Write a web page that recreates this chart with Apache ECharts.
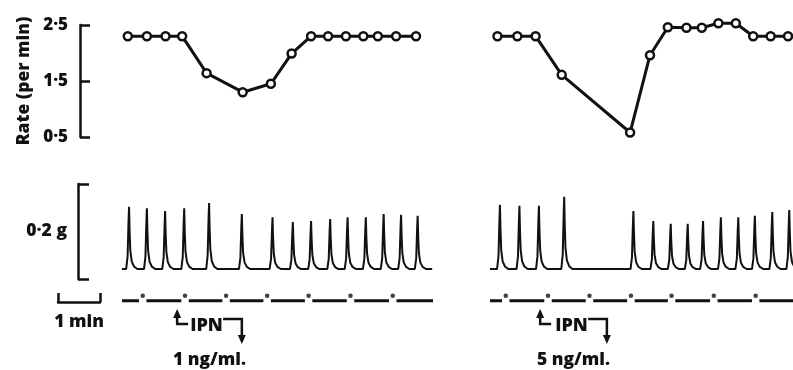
<!DOCTYPE html>
<html>
<head>
<meta charset="utf-8">
<script src="https://cdn.jsdelivr.net/npm/echarts@6/dist/echarts.min.js"></script>
<style>
  html, body { margin: 0; background: #fff; }
  #chart { width: 793px; height: 370px; }
</style>
</head>
<body>
<div id="chart"></div>
<script>
// rate (per min), time in min from start of each record
var rateTimeL = [0.14, 0.60, 1.05, 1.45, 2.04, 2.91, 3.59, 4.09, 4.56, 4.97, 5.40, 5.82, 6.17, 6.61, 7.09]
var rateL = [2.3, 2.3, 2.3, 2.3, 1.64, 1.3, 1.45, 1.99, 2.3, 2.3, 2.3, 2.3, 2.3, 2.3, 2.3]
var rateTimeR = [0.18, 0.66, 1.10, 1.73, 3.38, 3.86, 4.29, 4.74, 5.11, 5.51, 5.93, 6.35, 6.77, 7.19]
var rateR = [2.3, 2.3, 2.3, 1.61, 0.58, 1.96, 2.46, 2.45, 2.45, 2.53, 2.53, 2.3, 2.3, 2.3]

// contractions: peak time (min) and amplitude (g)
var beatTimeL = [0.17, 0.60, 1.04, 1.50, 2.10, 2.89, 3.63, 4.12, 4.56, 5.02, 5.44, 5.88, 6.31, 6.73, 7.13]
var beatAmpL = [0.131, 0.128, 0.122, 0.128, 0.139, 0.116, 0.109, 0.099, 0.101, 0.105, 0.109, 0.109, 0.116, 0.114, 0.112]
var beatTimeR = [0.24, 0.71, 1.18, 1.79, 3.46, 3.94, 4.36, 4.77, 5.14, 5.57, 5.99, 6.39, 6.81, 7.22]
var beatAmpR = [0.135, 0.133, 0.133, 0.152, 0.122, 0.101, 0.095, 0.095, 0.101, 0.109, 0.109, 0.112, 0.120, 0.124]
var restTension = 0.021

// 1 min time marks
var minuteMarksL = [0.5, 1.52, 2.51, 3.5, 4.5, 5.51, 6.53]
var minuteMarksR = [0.38, 1.4, 2.4, 3.4, 4.38, 5.4, 6.41]

// IPN in / out (min)
var ipnL = [1.33, 2.89]
var ipnR = [1.21, 2.82]
var doseL = '1 ng/ml.'
var doseR = '5 ng/ml.'

var endL = 7.5
var endR = 7.31

var ink = '#111'
var font = 'Open Sans'

// shape of one twitch: [time offset (min), fraction of amplitude]
var twitch = [[-0.07, 0], [-0.035, 0.2], [-0.013, 0.75], [0, 1], [0.013, 0.62], [0.03, 0.3], [0.065, 0.12], [0.12, 0.04], [0.2, 0]]

function zip (a, b) {
  return a.map(function (v, i) { return [v, b[i]] })
}

function buildTrace (times, amps, end) {
  var pts = [[0, restTension]]
  times.forEach(function (t, i) {
    twitch.forEach(function (p) {
      pts.push([t + p[0], restTension + amps[i] * p[1]])
    })
  })
  pts.push([end, restTension])
  return pts
}

var markY = -0.046
var dotY = -0.035
function buildMarker (marks, end) {
  var pts = [[0, markY]]
  marks.forEach(function (m) {
    pts.push([m - 0.09, markY], [m, '-'], [m + 0.09, markY])
  })
  pts.push([end, markY])
  return pts
}

var lineSeries = function (x, y, data, extra) {
  return Object.assign({
    type: 'line',
    xAxisIndex: x,
    yAxisIndex: y,
    data: data,
    showSymbol: false,
    symbol: 'none',
    animation: false,
    silent: true,
    lineStyle: { color: ink, width: 2 }
  }, extra || {})
}

var rateSeries = function (x, data) {
  return {
    type: 'line',
    xAxisIndex: x,
    yAxisIndex: x,
    data: data,
    clip: false,
    animation: false,
    silent: true,
    symbol: 'circle',
    symbolSize: 8,
    z: 5,
    lineStyle: { color: ink, width: 3 },
    itemStyle: { color: '#fff', borderColor: ink, borderWidth: 2.5 }
  }
}

var hiddenX = function (g, max) {
  return { type: 'value', gridIndex: g, min: 0, max: max, show: false }
}

var txt = function (size) {
  return { color: ink, fontFamily: font, fontWeight: 800, fontSize: size }
}

var myChart = echarts.init(document.getElementById('chart'))
var option = {
  backgroundColor: '#fff',
  grid: [
    { left: 122, top: 25, width: 311, height: 112 },
    { left: 122, top: 184, width: 311, height: 95 },
    { left: 490, top: 25, width: 303, height: 112 },
    { left: 490, top: 184, width: 303, height: 95 },
    { left: 58, top: 285, width: 42, height: 17 }
  ],
  xAxis: [
    hiddenX(0, endL),
    hiddenX(1, endL),
    hiddenX(2, endR),
    hiddenX(3, endR),
    {
      type: 'value', gridIndex: 4, min: 0, max: 1, interval: 1,
      axisLine: { onZero: false, lineStyle: { color: ink, width: 2.5 } },
      axisTick: { inside: true, length: 9, lineStyle: { color: ink, width: 2.5 } },
      axisLabel: { show: false },
      splitLine: { show: false },
      name: '1 min',
      nameLocation: 'middle',
      nameGap: 11,
      nameTextStyle: txt(17.5)
    }
  ],
  yAxis: [
    {
      type: 'value', gridIndex: 0, min: 0.5, max: 2.5, interval: 1, offset: 42,
      axisLine: { show: true, onZero: false, lineStyle: { color: ink, width: 2.5 } },
      axisTick: { show: true, inside: true, length: 10, lineStyle: { color: ink, width: 2.5 } },
      axisLabel: Object.assign(txt(17), {
        margin: 12,
        formatter: function (v) { return v.toFixed(1).replace('.', '·') }
      }),
      splitLine: { show: false },
      name: 'Rate (per min)',
      nameLocation: 'middle',
      nameRotate: 90,
      nameGap: 47,
      nameTextStyle: txt(17.5)
    },
    {
      type: 'value', gridIndex: 1, min: 0, max: 0.2, interval: 0.2, offset: 44,
      axisLine: { show: true, onZero: false, lineStyle: { color: ink, width: 2.5 } },
      axisTick: { show: true, inside: true, length: 11, lineStyle: { color: ink, width: 2.5 } },
      axisLabel: { show: false },
      splitLine: { show: false },
      name: '0·2 g',
      nameLocation: 'middle',
      nameRotate: 0,
      nameGap: 11,
      nameTextStyle: txt(17.5)
    },
    { type: 'value', gridIndex: 2, min: 0.5, max: 2.5, show: false },
    { type: 'value', gridIndex: 3, min: 0, max: 0.2, show: false },
    { type: 'value', gridIndex: 4, min: 0, max: 1, show: false }
  ],
  series: [
    rateSeries(0, zip(rateTimeL, rateL)),
    rateSeries(2, zip(rateTimeR, rateR)),
    lineSeries(1, 1, buildTrace(beatTimeL, beatAmpL, endL - 0.02)),
    lineSeries(3, 3, buildTrace(beatTimeR, beatAmpR, endR + 0.2)),
    lineSeries(1, 1, buildMarker(minuteMarksL, endL), { clip: false, lineStyle: { color: ink, width: 3 } }),
    lineSeries(3, 3, buildMarker(minuteMarksR, endR), { clip: false, lineStyle: { color: ink, width: 3 } }),
    {
      type: 'scatter', xAxisIndex: 1, yAxisIndex: 1, clip: false, animation: false, silent: true,
      symbolSize: 4.5, itemStyle: { color: ink },
      data: minuteMarksL.map(function (m) { return [m, dotY] })
    },
    {
      type: 'scatter', xAxisIndex: 3, yAxisIndex: 3, clip: false, animation: false, silent: true,
      symbolSize: 4.5, itemStyle: { color: ink },
      data: minuteMarksR.map(function (m) { return [m, dotY] })
    }
  ]
}
myChart.setOption(option, true)

// IPN arrows and dose labels, placed from the drug times
function ipnGraphic (grid, ipn, dose, textShift) {
  var xOn = myChart.convertToPixel({ gridIndex: grid }, [ipn[0], 0])[0]
  var xOff = myChart.convertToPixel({ gridIndex: grid }, [ipn[1], 0])[0]
  var stroke = { stroke: ink, lineWidth: 2.5, fill: null }
  return [
    { type: 'polyline', shape: { points: [[xOn, 315], [xOn, 324], [xOn + 11, 324]] }, style: stroke },
    { type: 'polygon', shape: { points: [[xOn - 4, 318], [xOn + 4, 318], [xOn, 309]] }, style: { fill: ink } },
    {
      type: 'text',
      style: { text: 'IPN', x: xOn + textShift, y: 326, textAlign: 'left', textVerticalAlign: 'middle', font: '800 18px ' + font, fill: ink }
    },
    { type: 'polyline', shape: { points: [[xOn + textShift + 33, 319], [xOff, 319], [xOff, 336]] }, style: stroke },
    { type: 'polygon', shape: { points: [[xOff - 4, 335], [xOff + 4, 335], [xOff, 344]] }, style: { fill: ink } },
    {
      type: 'text',
      style: { text: dose, x: (xOn + xOff) / 2, y: 360, textAlign: 'center', textVerticalAlign: 'middle', font: '800 17.5px ' + font, fill: ink }
    }
  ]
}

myChart.setOption({
  graphic: ipnGraphic(1, ipnL, doseL, 13).concat(ipnGraphic(3, ipnR, doseR, 15))
})

window.addEventListener('resize', function () {
  myChart.resize()
})
</script>
</body>
</html>
